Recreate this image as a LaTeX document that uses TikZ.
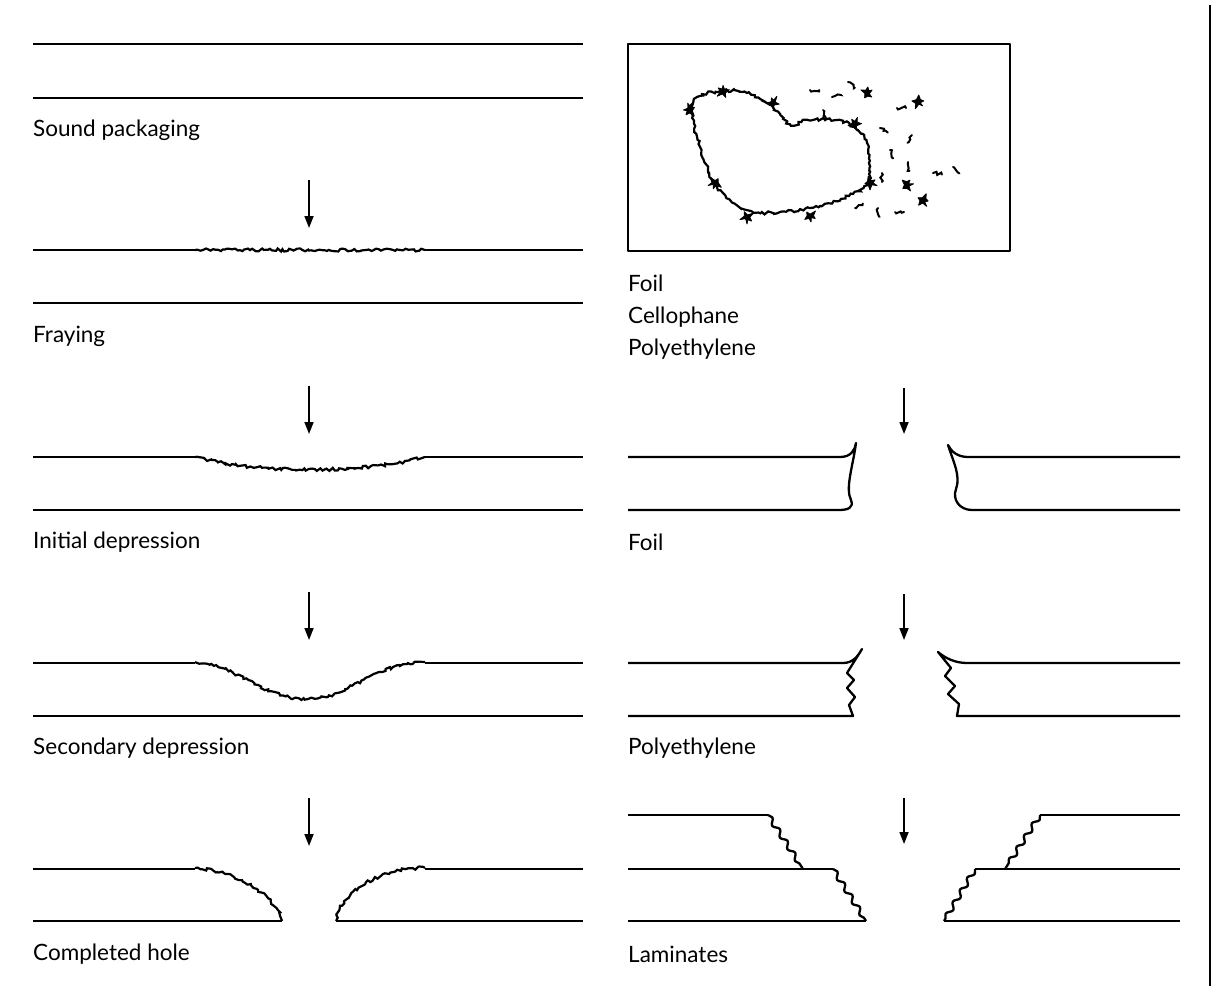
\documentclass[tikz,border=0pt]{standalone}
\usepackage{fontspec}
\setmainfont{Lato}
\usetikzlibrary{positioning}
\usetikzlibrary{decorations.pathmorphing}
\usetikzlibrary{arrows.meta}
\tikzset{layer/.style={line width=2.3pt, line join=round},
        frayed/.style={line width=2.2pt, decorate,
          decoration={random steps, segment length=2.5pt, amplitude=1.5pt}},
        wavy/.style={decorate, decoration={snake, segment length=14pt, amplitude=2.4pt}},
        shard/.style={line width=2pt, line cap=round, decorate,
          decoration={random steps, segment length=2.5pt, amplitude=1.8pt}},
        tuft/.style={fill, draw, line width=0.8pt, line join=round},
        stagearrow/.style={line width=1.7pt, -{Triangle[length=12pt, width=9pt]}},
        stagelabel/.style={anchor=west, inner sep=0pt, font=\fontsize{22.5}{32}\selectfont, align=left},
}

\begin{document}
\begin{tikzpicture}[x=1pt, y=-1pt]
  \pgfmathsetseed{7}
  \useasboundingbox (0,0) rectangle (1215,986);

  % SOUND PACKAGING
  \draw[layer] (33,44) -- (583,44);
  \draw[layer] (33,98) -- (583,98);
  \node[stagelabel] (sound) at (33,130) {Sound packaging};

  % FRAYING
  \draw[layer] (33,250) -- (195,250);
  \draw[frayed] (195,250) -- (425,250);
  \draw[layer] (425,250) -- (583,250);
  \draw[layer] (33,303) -- (583,303);
  \node[stagelabel] (fray) at (33,336) {Fraying};

  % INITIAL DEPRESSION
  \draw[layer] (33,457) -- (195,457);
  \draw[frayed] (195,457) .. controls (260,474) and (360,474) .. (425,457);
  \draw[layer] (425,457) -- (583,457);
  \draw[layer] (33,510) -- (583,510);
  \node[stagelabel] (initial) at (33,542) {Initial depression};

  % SECONDARY DEPRESSION
  \draw[layer] (33,663) -- (195,663);
  \draw[frayed] (195,662) .. controls (245,668) and (262,699) .. (308,699)
                .. controls (350,699) and (368,664) .. (425,662);
  \draw[layer] (425,663) -- (583,663);
  \draw[layer] (33,716) -- (583,716);
  \node[stagelabel] (secondary) at (33,748) {Secondary depression};

  % COMPLETED HOLE
  \draw[layer] (33,869) -- (195,869);
  \draw[frayed] (195,868) .. controls (240,872) and (274,895) .. (282,921);
  \draw[layer] (33,921) -- (282,921);
  \draw[frayed] (336,921) .. controls (338,895) and (378,867) .. (425,868);
  \draw[layer] (425,869) -- (583,869);
  \draw[layer] (336,921) -- (583,921);
  \node[stagelabel] (hole) at (33,954) {Completed hole};

  % stage arrows, left column
  \foreach \y in {180,386,592,798}
    \draw[stagearrow] (309,\y) -- ++(0,48);

  % FILM SAMPLE (torn film with loose bits)
  \draw[layer] (628,44) rectangle (1010,251);
  \draw[frayed] plot[smooth cycle, tension=0.65] coordinates {
      (697,97) (723,91) (747,93) (770,105) (790,124) (807,120) (837,120)
      (855,128) (867,143) (869,163) (868,183) (853,194) (820,206) (780,212)
      (747,210) (717,187) (700,147) (692,112)};
  % torn tufts on the rim and loose tufts
  \foreach \px/\py/\ang in {690/110/180, 723/92/90, 773/103/60, 715/183/200,
      747/217/-90, 810/216/-80, 870/183/-20, 855/124/70,
      867/93/30, 918/102/-40, 907/185/10, 923/200/-60}
    \path[tuft, shift={(\px,\py)}, rotate=\ang] (0:{5+3*rnd})
      \foreach \a/\r in {35/1.8, 70/6, 110/2, 150/5, 195/1.8, 235/6.5, 275/2, 310/5, 340/1.8}
        { -- (\a:{\r+1.5*rnd}) } -- cycle;
  \foreach \px/\py/\ang in {810/90/0, 832/97/-15, 848/82/40, 823/110/70, 897/108/0,
      880/128/30, 912/135/120, 890/150/70, 908/162/80, 882/173/90, 933/173/10,
      953/167/45, 855/208/-30, 878/208/80, 895/212/0}
    \draw[shard] (\px,\py) -- ++(\ang:9);
  \node[stagelabel] (films) at (628,317) {Foil\\Cellophane\\Polyethylene};

  % FOIL
  \draw[layer] (628,457) -- (840,457) .. controls (851,457) and (855,450) .. (856,443)
        .. controls (853,466) and (845,488) .. (851,500)
        .. controls (854,508) and (848,510) .. (838,510) -- (628,510);
  \draw[layer] (1180,457) -- (968,457) .. controls (957,457) and (951,451) .. (948,445)
        .. controls (953,461) and (961,476) .. (956,489)
        .. controls (952,500) and (960,510) .. (972,510) -- (1180,510);
  \node[stagelabel] (foil) at (628,542) {Foil};

  % POLYETHYLENE
  \draw[layer] (628,663) -- (843,663) .. controls (853,663) and (858,656) .. (862,649)
        -- (847,673) -- (854,680) -- (847,688) -- (855,697) -- (849,705) -- (853,716)
        -- (628,716);
  \draw[layer] (1180,663) -- (967,663) .. controls (955,663) and (945,658) .. (938,652)
        -- (951,668) -- (945,676) -- (955,686) -- (948,694) -- (959,704) -- (957,716)
        -- (1180,716);
  \node[stagelabel] (poly) at (628,748) {Polyethylene};

  % LAMINATES
  \draw[layer] (628,815) -- (768,815);
  \draw[layer, wavy] (768,815) -- (803,869);
  \draw[layer] (628,869) -- (833,869);
  \draw[layer, wavy] (833,869) -- (866,921);
  \draw[layer] (628,921) -- (866,921);
  \draw[layer] (1180,815) -- (1040,815);
  \draw[layer, wavy] (1040,815) -- (1005,869);
  \draw[layer] (1180,869) -- (975,869);
  \draw[layer, wavy] (975,869) -- (944,921);
  \draw[layer] (944,921) -- (1180,921);
  \node[stagelabel] (lam) at (628,954) {Laminates};

  % stage arrows, right column
  \foreach \y in {388,594,798}
    \draw[stagearrow] (904,\y) -- ++(0,46);

  % page rule
  \draw[line width=2.3pt] (1210,5) -- (1210,986);
\end{tikzpicture}
\end{document}
